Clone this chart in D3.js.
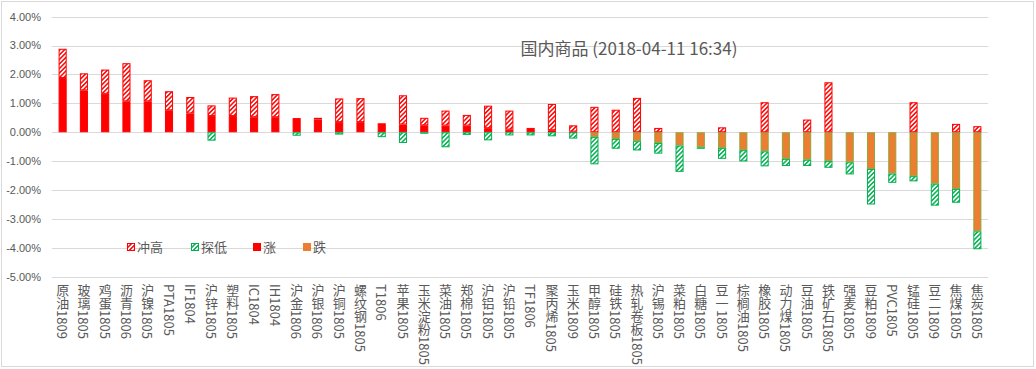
<!DOCTYPE html>
<html>
<head>
<meta charset="utf-8">
<script src="https://cdn.jsdelivr.net/npm/d3@7"></script>
<style>
  body { margin: 0; background: #fff; }
  svg { display: block; font-family: "Noto Sans CJK SC", "Noto Sans", sans-serif; }
</style>
</head>
<body>
<div id="chart"></div>
<script>
// 国内商品 涨跌幅 / 冲高 / 探低 (单位 %)
const categories = ['原油1809', '玻璃1805', '鸡蛋1805', '沥青1806', '沪镍1805', 'PTA1805', 'IF1804', '沪锌1805',
    '塑料1805', 'IC1804', 'IH1804', '沪金1806', '沪银1806', '沪铜1805', '螺纹钢1805', 'T1806', '苹果1805',
    '玉米淀粉1805', '菜油1805', '郑棉1805', '沪铝1805', '沪铅1805', 'TF1806', '聚丙烯1805', '玉米1809', '甲醇1805',
    '硅铁1805', '热轧卷板1805', '沪锡1805', '菜粕1805', '白糖1805', '豆一1805', '棕榈油1805', '橡胶1805',
    '动力煤1805', '豆油1805', '铁矿石1805', '强麦1805', '豆粕1809', 'PVC1805', '锰硅1805', '豆二1809',
    '焦煤1805', '焦炭1805'];
const zhang = [1.88, 1.45, 1.33, 1.07, 1.07, 0.76, 0.65, 0.56, 0.56, 0.52, 0.52, 0.49, 0.44, 0.35, 0.35, 0.31, 0.27,
    0.24, 0.23, 0.23, 0.14, 0.09, 0.15, 0.07, 0.02, 0, 0, 0, 0, 0, 0, 0, 0, 0, 0, 0, 0, 0, 0, 0, 0, 0, 0, 0];
const chonggao = [1.01, 0.59, 0.84, 1.32, 0.73, 0.66, 0.57, 0.37, 0.64, 0.73, 0.80, 0, 0.06, 0.82, 0.83, 0, 1.01,
    0.26, 0.52, 0.37, 0.78, 0.66, 0, 0.91, 0.22, 0.88, 0.78, 1.19, 0.15, 0, 0, 0.17, 0, 1.04, 0, 0.44, 1.73, 0, 0,
    0, 1.04, 0, 0.29, 0.21];
const die = [0, 0, 0, 0, 0, 0, 0, 0, 0, 0, 0, 0, 0, 0, 0, 0, 0, 0, 0, 0, 0, 0, 0, 0, 0, -0.16, -0.23, -0.31, -0.37,
    -0.46, -0.52, -0.54, -0.62, -0.66, -0.92, -0.95, -1.00, -1.04, -1.27, -1.43, -1.52, -1.78, -1.96, -3.43];
const tandi = [0, 0, 0, 0, 0, 0, 0, -0.29, 0, 0, 0, -0.12, 0, -0.08, 0, -0.17, -0.37, -0.05, -0.52, -0.09, -0.28,
    -0.11, -0.11, -0.14, -0.22, -0.95, -0.34, -0.32, -0.37, -0.91, -0.01, -0.38, -0.39, -0.52, -0.25, -0.22, -0.23,
    -0.42, -1.23, -0.32, -0.18, -0.76, -0.48, -0.62];
const yTicks = [-5, -4, -3, -2, -1, 0, 1, 2, 3, 4];
const legendItems = ['冲高', '探低', '涨', '跌'];

const width = 1036, height = 369;
const textColor = '#595959';

const svg = d3.select('#chart').append('svg')
    .attr('width', width)
    .attr('height', height);

// 斜线填充
const defs = svg.append('defs');
function hatch(id, color) {
    const p = defs.append('pattern')
        .attr('id', id)
        .attr('patternUnits', 'userSpaceOnUse')
        .attr('width', 3.2)
        .attr('height', 3.2)
        .attr('patternTransform', 'rotate(45)');
    p.append('rect').attr('width', 3.2).attr('height', 3.2).attr('fill', '#fff');
    p.append('line').attr('x1', 0.8).attr('y1', 0).attr('x2', 0.8).attr('y2', 3.2)
        .attr('stroke', color).attr('stroke-width', 1.5);
}
hatch('hatchRed', '#ff0000');
hatch('hatchGreen', '#00b050');

const styles = {
    '冲高': { fill: 'url(#hatchRed)', stroke: '#ff0000' },
    '探低': { fill: 'url(#hatchGreen)', stroke: '#00b050' },
    '涨': { fill: '#ff0000', stroke: '#ff0000' },
    '跌': { fill: '#ed7d31', stroke: '#8ea83c' }
};

// 外框
svg.append('rect')
    .attr('x', 1.5).attr('y', 1.5)
    .attr('width', 1032).attr('height', 365)
    .attr('fill', '#fff')
    .attr('stroke', '#d9d9d9');

const x = d3.scaleBand()
    .domain(categories)
    .range([52, 988])
    .paddingInner(0.62)
    .paddingOuter(0.31);

const y = d3.scaleLinear()
    .domain([-5, 4])
    .range([276.7, 16.7]);

// 网格线
svg.append('g')
    .selectAll('line')
    .data(yTicks)
    .enter()
    .append('line')
    .attr('x1', 52).attr('x2', 988)
    .attr('y1', d => Math.round(y(d)) + 0.5)
    .attr('y2', d => Math.round(y(d)) + 0.5)
    .attr('stroke', '#d9d9d9');

// y 轴标签
svg.append('g')
    .selectAll('text')
    .data(yTicks)
    .enter()
    .append('text')
    .attr('x', 41)
    .attr('y', d => y(d))
    .attr('dy', '0.35em')
    .attr('text-anchor', 'end')
    .attr('font-family', '"Liberation Sans", sans-serif')
    .attr('font-size', 11)
    .attr('fill', textColor)
    .text(d => d.toFixed(2) + '%');

// 堆叠数据
const rows = categories.map((c, i) => ({
    cat: c, '涨': zhang[i], '跌': die[i], '冲高': chonggao[i], '探低': tandi[i]
}));
const stack = d3.stack()
    .keys(['涨', '跌', '冲高', '探低'])
    .offset(d3.stackOffsetDiverging);
const series = stack(rows);

svg.append('g')
    .selectAll('g')
    .data(series)
    .enter()
    .append('g')
    .each(function (s) {
        const st = styles[s.key];
        d3.select(this).selectAll('rect')
            .data(s.filter(d => d[1] !== d[0]))
            .enter()
            .append('rect')
            .attr('x', d => x(d.data.cat) + 0.5)
            .attr('width', x.bandwidth() - 1)
            .attr('y', d => y(d[1]) + 0.5)
            .attr('height', d => Math.max(0.5, y(d[0]) - y(d[1]) - 1))
            .attr('fill', st.fill)
            .attr('stroke', st.stroke)
            .attr('stroke-width', 1);
    });

// x 轴分类标签（竖排）
svg.append('g')
    .selectAll('text')
    .data(categories)
    .enter()
    .append('text')
    .attr('x', d => x(d) + x.bandwidth() / 2)
    .attr('y', 284)
    .style('writing-mode', 'vertical-rl')
    .attr('font-size', 13)
    .attr('fill', textColor)
    .text(d => d);

// 标题
svg.append('text')
    .attr('x', 629)
    .attr('y', 55)
    .attr('text-anchor', 'middle')
    .attr('font-size', 17)
    .attr('fill', textColor)
    .text('国内商品 (2018-04-11 16:34)');

// 图例
const legendX = [127, 191, 253, 303];
const legend = svg.append('g')
    .selectAll('g')
    .data(legendItems)
    .enter()
    .append('g')
    .attr('transform', (d, i) => `translate(${legendX[i]},247)`);
legend.append('rect')
    .attr('x', 0.5).attr('y', -3.5)
    .attr('width', 7).attr('height', 7)
    .attr('fill', d => styles[d].fill)
    .attr('stroke', d => d === '跌' ? '#ed7d31' : styles[d].stroke);
legend.append('text')
    .attr('x', 10)
    .attr('dy', '0.35em')
    .attr('font-size', 13)
    .attr('fill', textColor)
    .text(d => d);
</script>
</body>
</html>
